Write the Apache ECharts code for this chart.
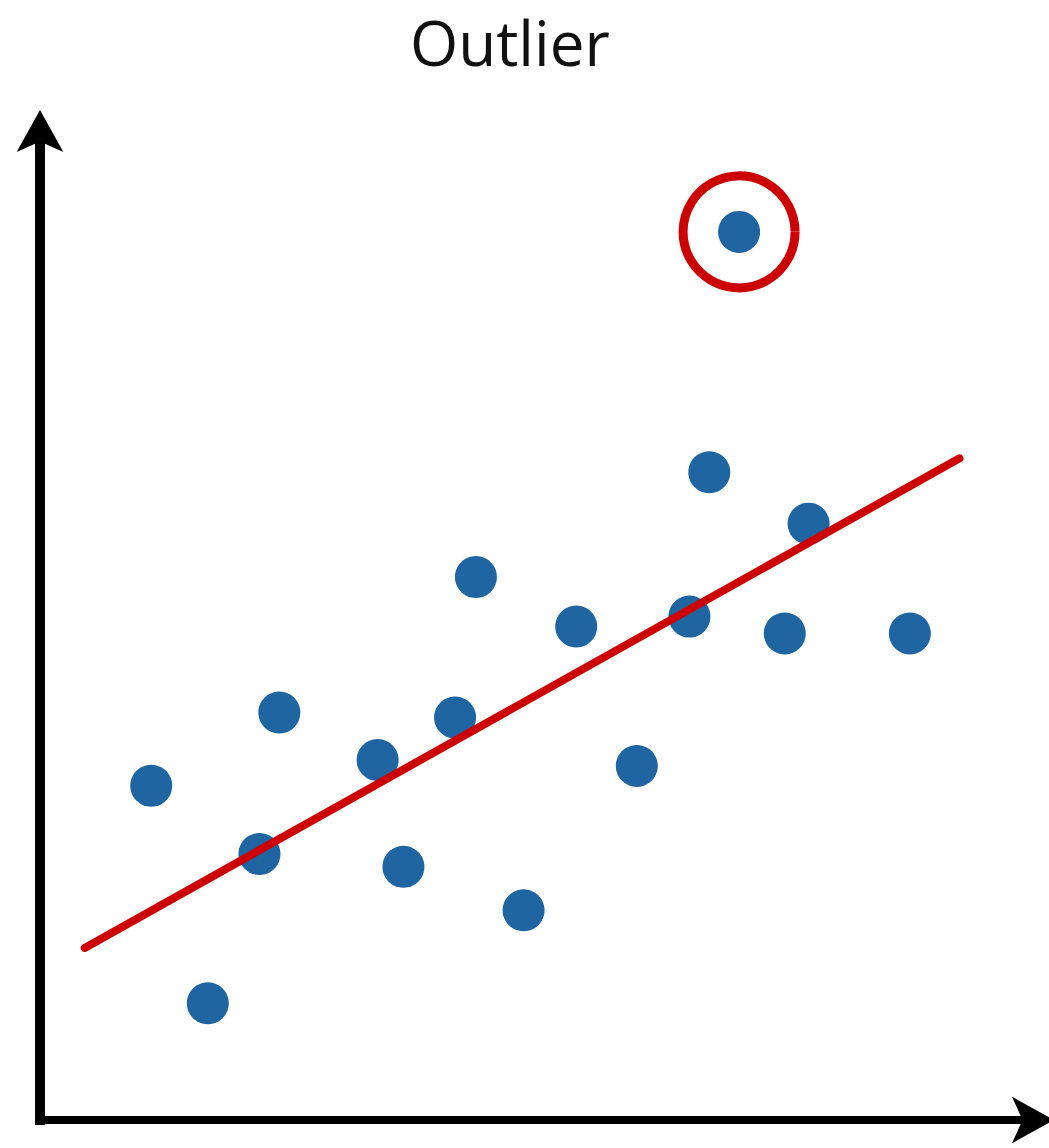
<!DOCTYPE html>
<html>
<head>
<meta charset="utf-8">
<title>Outlier</title>
<script src="https://cdn.jsdelivr.net/npm/echarts@6/dist/echarts.min.js"></script>
<style>
  html, body { margin: 0; padding: 0; background: #fff; }
  #chart { width: 1049px; height: 1148px; }
</style>
</head>
<body>
<div id="chart"></div>
<script>
// values, axis units 0..10
const xValues = [1.12, 1.69, 2.21, 2.41, 3.40, 3.66, 4.18, 4.39, 4.87, 5.40, 6.01, 6.54, 6.74, 7.50, 7.74, 8.76];
const yValues = [3.38, 1.18, 2.69, 4.12, 3.64, 2.56, 4.07, 5.49, 2.12, 4.99, 3.58, 5.09, 6.55, 4.92, 6.03, 4.92];
const outlierPoint = [7.04, 8.98];
const fitLineX = [0.45, 9.26];
const fitLineY = [1.74, 6.69];

const blue = "#1f65a1";
const red = "#cc0000";

const chart = echarts.init(document.getElementById("chart"), null, { renderer: "svg" });

const points = xValues.map((x, i) => [x, yValues[i]]);
const fitLine = fitLineX.map((x, i) => [x, fitLineY[i]]);

const hiddenAxis = (lineWidth) => ({
  type: "value",
  min: 0,
  max: 10,
  axisLabel: { show: false },
  axisTick: { show: false },
  splitLine: { show: false },
  axisLine: {
    show: true,
    onZero: false,
    symbol: ["none", "arrow"],
    symbolSize: [35, 42],
    symbolOffset: [0, 21],
    lineStyle: { color: "#000", width: lineWidth, cap: "square" }
  }
});

chart.setOption({
  animation: false,
  title: {
    text: "Outlier",
    left: 405,
    top: 6,
    textStyle: {
      fontFamily: "Open Sans",
      fontSize: 62,
      fontWeight: "normal",
      color: "#111",
      lineHeight: 62
    }
  },
  grid: { left: 40, right: 16, top: 131, bottom: 28 },
  xAxis: hiddenAxis(8),
  yAxis: hiddenAxis(10),
  series: [
    {
      name: "Fit",
      type: "line",
      data: fitLine,
      showSymbol: false,
      lineStyle: { color: red, width: 8, cap: "round" },
      z: 3
    },
    {
      name: "Data",
      type: "scatter",
      data: points,
      symbol: "circle",
      symbolSize: 42,
      itemStyle: { color: blue, opacity: 1 },
      z: 2
    },
    {
      name: "Outlier",
      type: "scatter",
      data: [outlierPoint],
      symbol: "circle",
      symbolSize: 42,
      itemStyle: { color: blue, opacity: 1 },
      z: 2
    },
    {
      name: "Ring",
      type: "scatter",
      data: [outlierPoint],
      symbol: "circle",
      symbolSize: 112,
      silent: true,
      itemStyle: { color: "transparent", borderColor: red, borderWidth: 9, opacity: 1 },
      z: 2
    }
  ]
});
</script>
</body>
</html>
